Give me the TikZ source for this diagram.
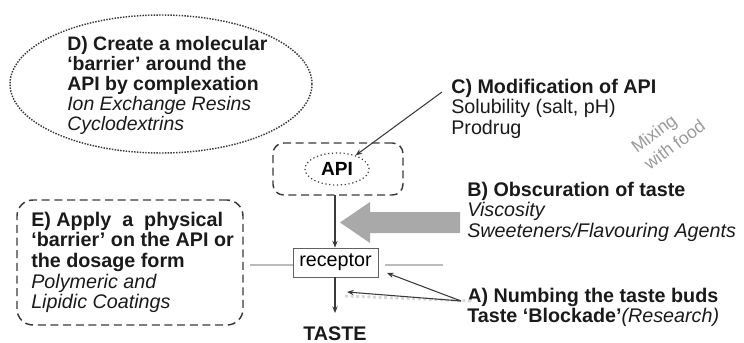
\documentclass[tikz,border=0pt]{standalone}
\usepackage{fontspec}
\setmainfont{Liberation Sans}
\usetikzlibrary{arrows.meta,shapes.geometric}
\definecolor{txt}{HTML}{1A1A1A}
\definecolor{itx}{HTML}{2A2A2A}
\definecolor{ln}{HTML}{3A3A3A}
\definecolor{bigarrow}{HTML}{A9A9A9}
\definecolor{hline}{HTML}{BBBBBB}
\definecolor{dotgray}{HTML}{D8D8D8}
\definecolor{mixgray}{HTML}{9A9A9A}
\begin{document}
\begin{tikzpicture}[x=0.75pt,y=-0.75pt,
  font=\fontsize{14.8}{15.5}\selectfont,
  txtblk/.style={anchor=north west, inner sep=0pt, align=left, text=txt},
  dashbox/.style={draw=ln, line width=1.1pt, dash pattern=on 6pt off 3.5pt, rounded corners=8pt},
  thinarrow/.style={draw=ln, line width=0.8pt, -{Stealth[length=5pt,width=4pt]}},
  ]
\useasboundingbox (0,0) rectangle (744,343);

% D ellipse and text
\node[ellipse, draw=ln, densely dotted, line width=1.1pt, minimum width=226.5pt, minimum height=103.5pt] (dell) at (161,84) {};
\node[txtblk, font=\fontsize{14.6}{15}\selectfont] (dtext) at (67,36.6) {\textbf{D) Create a molecular}\\\textbf{‘barrier’ around the}\\\textbf{API by complexation}\\\textit{Ion Exchange Resins}\\\textit{Cyclodextrins}};

% API box and ellipse
\node[dashbox, minimum width=97.5pt, minimum height=39pt] (apibox) at (338,169) {};
\node[ellipse, draw=ln, dotted, line width=0.9pt, minimum width=48pt, minimum height=24pt, inner sep=0pt, font=\fontsize{14.3}{15}\selectfont\bfseries] (apiell) at (337,169) {API};

% C text and line
\node[txtblk] (ctext) at (451,78.6) {\textbf{C) Modification of API}\\Solubility (salt, pH)\\Prodrug};
\coordinate (cstart) at (442,92);
\draw[thinarrow] (cstart) -- (apiell);

% Mixing with food
\node[rotate=37, align=left, text=mixgray, inner sep=0pt, font=\fontsize{13.3}{16}\selectfont] (mix) at (668,136) {Mixing\\with food};

% receptor
\node[draw=ln!80, line width=0.7pt, minimum width=63.75pt, minimum height=21.75pt, inner sep=0pt] (rec) at (335.5,262.5) {receptor};
\coordinate (hl1) at (250,265);
\coordinate (hl2) at (385,265);
\coordinate (hl3) at (443,265);
\draw[hline, line width=1.2pt] (hl1) -- (hl1 -| rec.west);
\draw[hline, line width=1.2pt] (hl2) -- (hl3);

% taste
\node[anchor=base, inner sep=0pt, text=txt, font=\fontsize{14.8}{15.5}\selectfont\bfseries] (taste) at (335,340) {TASTE};
\draw[thinarrow] (335,195) -- (rec.north -| 335,0);
\coordinate (tasteend) at (335,313);
\draw[thinarrow] (rec.south -| tasteend) -- (tasteend);

% B big arrow and text
\fill[bigarrow] (460,212) -- (370,212) -- (370,202) -- (340,222.5) -- (370,243) -- (370,233) -- (460,233) -- cycle;
\node[txtblk] (btext) at (467,181.6) {\textbf{B) Obscuration of taste}\\\textit{Viscosity}\\\textit{Sweeteners/Flavouring Agents}};

% A text and arrows
\node[txtblk] (atext) at (467,287.6) {\textbf{A) Numbing the taste buds}\\\textbf{Taste ‘Blockade’}\textit{(Research)}};
\coordinate (astart) at (461,301);
\coordinate (dotend) at (472,301);
\coordinate (tipA1) at (387,273);
\coordinate (tipA2) at (347,292);
\draw[dotgray, line width=2.2pt, dotted] (345,296) -- (dotend);
\draw[thinarrow] (astart) -- (tipA1);
\draw[thinarrow] (astart) -- (tipA2);

% E box and text
\node[dashbox, rounded corners=12pt, minimum width=169.5pt, minimum height=93.75pt] (ebox) at (130,262.5) {};
\node[txtblk] (etext) at (31,211.6) {\textbf{E) Apply\ \ a\ \ physical}\\\textbf{‘barrier’ on the API or}\\\textbf{the dosage form}\\\textit{Polymeric and}\\\textit{Lipidic Coatings}};
\end{tikzpicture}
\end{document}
